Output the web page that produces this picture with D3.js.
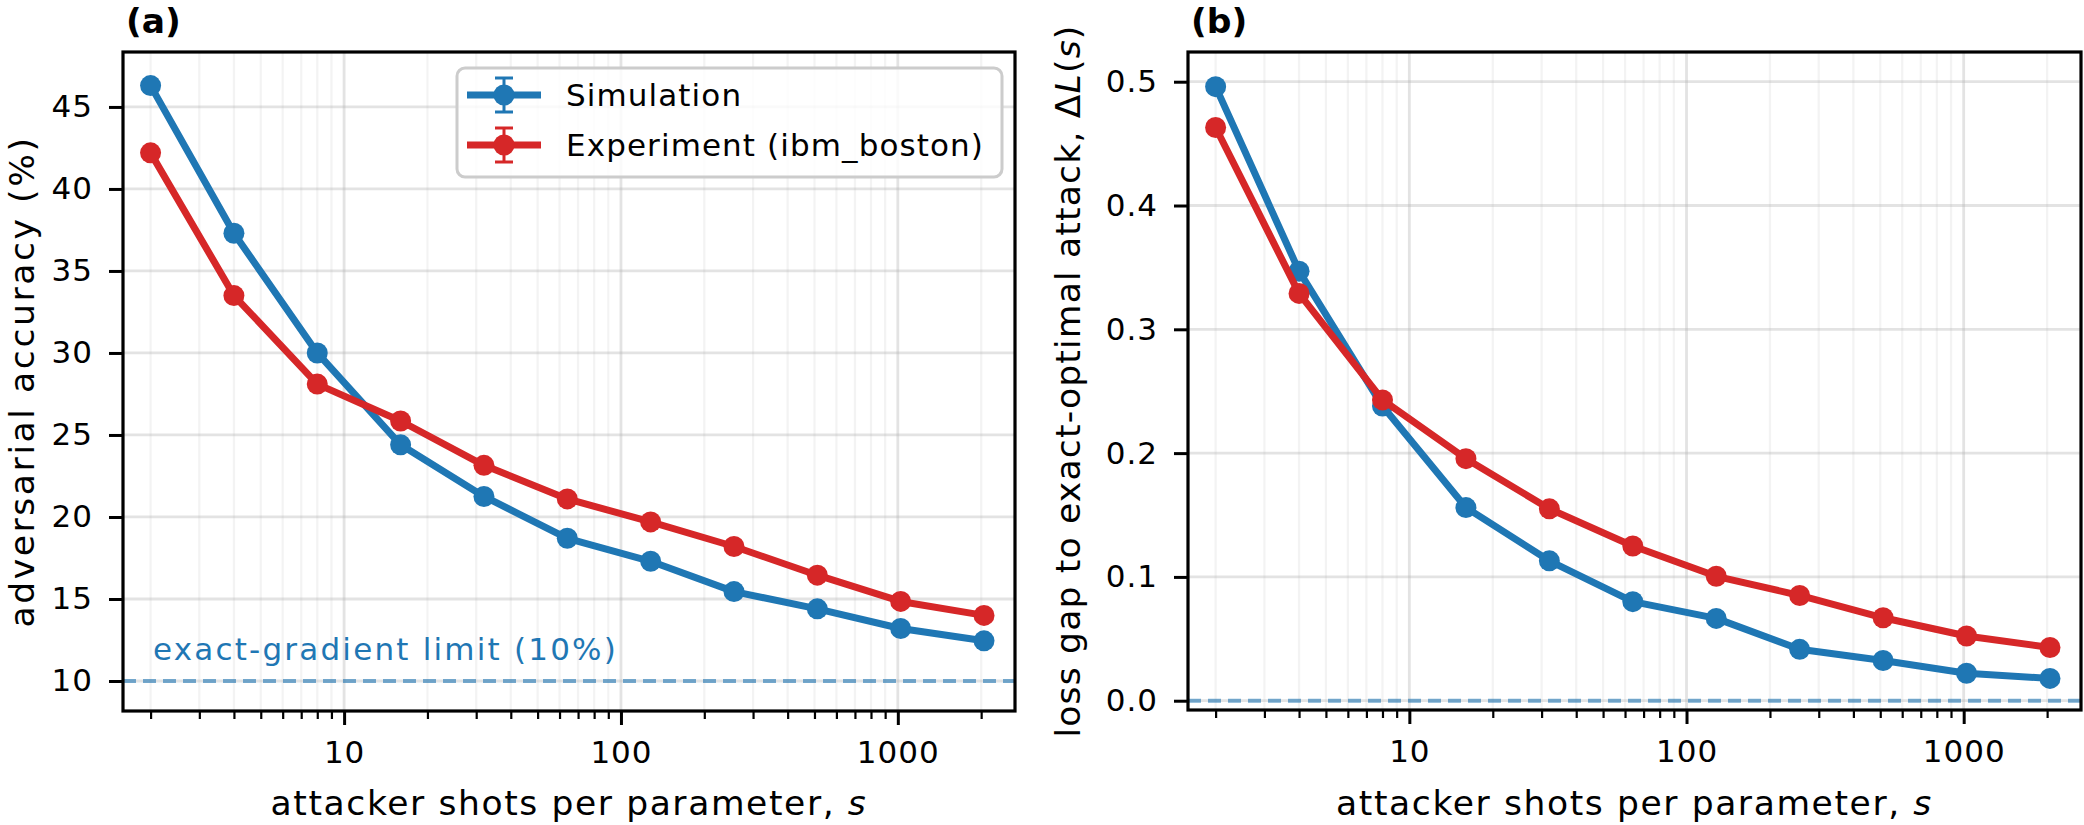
<!DOCTYPE html>
<html>
<head>
<meta charset="utf-8">
<script src="https://d3js.org/d3.v7.min.js"></script>
<style>
  body { margin: 0; background: #fff; }
  svg { display: block; font-family: "DejaVu Sans", sans-serif; }
</style>
</head>
<body>
<script>
// data
const shots = [2, 4, 8, 16, 32, 64, 128, 256, 512, 1024, 2048];
const simAcc = [46.3, 37.3, 30.0, 24.4, 21.25, 18.7, 17.3, 15.45, 14.4, 13.2, 12.45];
const expAcc = [42.2, 33.5, 28.1, 25.85, 23.15, 21.1, 19.7, 18.2, 16.45, 14.85, 14.0];
const simAccErr = [0.3, 0.3, 0.3, 0.3, 0.3, 0.3, 0.3, 0.3, 0.3, 0.3, 0.3];
const expAccErr = [0.3, 0.3, 0.3, 0.3, 0.3, 0.3, 0.3, 0.3, 0.3, 0.3, 0.3];
const simGap = [0.496, 0.347, 0.238, 0.156, 0.113, 0.080, 0.0665, 0.0415, 0.0325, 0.0222, 0.018];
const expGap = [0.463, 0.329, 0.243, 0.1955, 0.155, 0.125, 0.1005, 0.085, 0.067, 0.0523, 0.043];
const simGapErr = [0.004, 0.004, 0.004, 0.004, 0.004, 0.004, 0.004, 0.004, 0.004, 0.004, 0.004];
const expGapErr = [0.004, 0.004, 0.004, 0.004, 0.004, 0.004, 0.004, 0.004, 0.004, 0.004, 0.004];
const xMajorTicks = [10, 100, 1000];
const accTicks = [10, 15, 20, 25, 30, 35, 40, 45];
const gapTicks = [0.0, 0.1, 0.2, 0.3, 0.4, 0.5];
const seriesNames = ["Simulation", "Experiment (ibm_boston)"];

const BLUE = "#1f77b4", RED = "#d62728";

var svg = d3.select("body").append("svg")
    .attr("width", 2084)
    .attr("height", 825);

// minor log ticks 2..9 per decade inside the domain
function minorTicks(dom) {
    var out = [];
    for (var p = 0; p <= 3; p++) {
        for (var k = 2; k <= 9; k++) {
            var v = k * Math.pow(10, p);
            if (v >= dom[0] && v <= dom[1]) out.push(v);
        }
    }
    return out;
}

function drawPanel(opt) {
    var g = svg.append("g");
    var x = d3.scaleLog().domain([1.59, 2650]).range([opt.left, opt.right]);
    var y = d3.scaleLinear().domain(opt.ydom).range([opt.bottom, opt.top]);
    var minors = minorTicks(x.domain());

    // grid
    g.selectAll("line.mgrid").data(minors).enter().append("line")
        .attr("x1", d => x(d)).attr("x2", d => x(d))
        .attr("y1", opt.top).attr("y2", opt.bottom)
        .attr("stroke", "#b0b0b0").attr("stroke-opacity", 0.15).attr("stroke-width", 2.2);
    g.selectAll("line.xgrid").data(xMajorTicks).enter().append("line")
        .attr("x1", d => x(d)).attr("x2", d => x(d))
        .attr("y1", opt.top).attr("y2", opt.bottom)
        .attr("stroke", "#b0b0b0").attr("stroke-opacity", 0.35).attr("stroke-width", 2.8);
    g.selectAll("line.ygrid").data(opt.yticks).enter().append("line")
        .attr("x1", opt.left).attr("x2", opt.right)
        .attr("y1", d => y(d)).attr("y2", d => y(d))
        .attr("stroke", "#b0b0b0").attr("stroke-opacity", 0.35).attr("stroke-width", 2.8);

    // reference line
    g.append("line")
        .attr("x1", opt.left).attr("x2", opt.right)
        .attr("y1", y(opt.ref)).attr("y2", y(opt.ref))
        .attr("stroke", BLUE).attr("stroke-opacity", 0.6)
        .attr("stroke-width", 4).attr("stroke-dasharray", "13 7");

    if (opt.refLabel) {
        g.append("text")
            .attr("x", opt.left + 30).attr("y", y(opt.ref) - 21)
            .attr("fill", BLUE).attr("font-size", 31).attr("letter-spacing", 2.2)
            .text(opt.refLabel);
    }

    // series: error bars, line, markers
    opt.series.forEach(function (s) {
        var pts = shots.map((v, i) => ({ x: v, y: s.vals[i], e: s.err[i] }));
        var eb = g.append("g");
        eb.selectAll("line.eb").data(pts).enter().append("line")
            .attr("x1", d => x(d.x)).attr("x2", d => x(d.x))
            .attr("y1", d => y(d.y - d.e)).attr("y2", d => y(d.y + d.e))
            .attr("stroke", s.color).attr("stroke-width", 3);
        g.append("path").datum(pts)
            .attr("fill", "none").attr("stroke", s.color)
            .attr("stroke-width", 7).attr("stroke-linejoin", "round")
            .attr("d", d3.line().x(d => x(d.x)).y(d => y(d.y)));
        g.selectAll(null).data(pts).enter().append("circle")
            .attr("cx", d => x(d.x)).attr("cy", d => y(d.y))
            .attr("r", 10.5).attr("fill", s.color);
    });

    // frame
    g.append("rect")
        .attr("x", opt.left).attr("y", opt.top)
        .attr("width", opt.right - opt.left).attr("height", opt.bottom - opt.top)
        .attr("fill", "none").attr("stroke", "#000").attr("stroke-width", 3.2);

    // x axis
    var xa = g.append("g")
        .attr("transform", "translate(0," + opt.bottom + ")")
        .call(d3.axisBottom(x).tickValues(xMajorTicks).tickFormat(d3.format("d"))
            .tickSizeInner(14).tickSizeOuter(0).tickPadding(16));
    g.append("g")
        .attr("transform", "translate(0," + opt.bottom + ")")
        .call(d3.axisBottom(x).tickValues(minors).tickFormat("").tickSizeInner(8).tickSizeOuter(0))
        .call(a => a.select(".domain").remove())
        .selectAll("line").attr("stroke-width", 2.2);
    xa.select(".domain").remove();
    xa.selectAll("line").attr("stroke-width", 3);
    xa.selectAll("text").attr("font-size", 31).attr("letter-spacing", 1)
        .attr("font-family", "DejaVu Sans").attr("fill", "#000");

    // y axis
    var ya = g.append("g")
        .attr("transform", "translate(" + opt.left + ",0)")
        .call(d3.axisLeft(y).tickValues(opt.yticks).tickFormat(opt.yfmt)
            .tickSizeInner(14).tickSizeOuter(0).tickPadding(16));
    ya.select(".domain").remove();
    ya.selectAll("line").attr("stroke-width", 3);
    ya.selectAll("text").attr("font-size", 31).attr("letter-spacing", 1)
        .attr("font-family", "DejaVu Sans").attr("fill", "#000");

    // x label
    var xl = g.append("text")
        .attr("x", (opt.left + opt.right) / 2).attr("y", 815)
        .attr("text-anchor", "middle").attr("font-size", 34.5).attr("letter-spacing", 1.6);
    xl.append("tspan").text("attacker shots per parameter, ");
    xl.append("tspan").attr("font-style", "italic").text("s");

    // y label
    var yl = g.append("text")
        .attr("transform", "translate(" + opt.ylabelX + "," + (opt.top + opt.bottom) / 2 + ") rotate(-90)")
        .attr("text-anchor", "middle").attr("font-size", 34.5).attr("letter-spacing", opt.ylabelLs);
    opt.ylabel.forEach(function (p) {
        var t = yl.append("tspan").text(p[0]);
        if (p[1]) t.attr("font-style", "italic");
    });

    // panel tag
    g.append("text")
        .attr("x", opt.left + 3).attr("y", 33)
        .attr("font-size", 34.5).attr("font-weight", "bold")
        .text(opt.tag);

    return { x: x, y: y };
}

drawPanel({
    left: 123, right: 1015, top: 52, bottom: 711,
    ydom: [8.17, 48.35], yticks: accTicks, yfmt: d3.format("d"),
    ref: 10, refLabel: "exact-gradient limit (10%)",
    series: [
        { vals: simAcc, err: simAccErr, color: BLUE },
        { vals: expAcc, err: expAccErr, color: RED }
    ],
    ylabel: [["adversarial accuracy (%)", false]], ylabelX: 34, ylabelLs: 2.6,
    tag: "(a)"
});

drawPanel({
    left: 1188, right: 2081, top: 52, bottom: 710,
    ydom: [-0.0075, 0.524], yticks: gapTicks, yfmt: d3.format(".1f"),
    ref: 0, refLabel: null,
    series: [
        { vals: simGap, err: simGapErr, color: BLUE },
        { vals: expGap, err: expGapErr, color: RED }
    ],
    ylabel: [["loss gap to exact-optimal attack, \u0394", false], ["L", true], ["(", false], ["s", true], [")", false]],
    ylabelX: 1080, ylabelLs: 1.2,
    tag: "(b)"
});

// legend in panel (a)
var leg = svg.append("g");
leg.append("rect")
    .attr("x", 457).attr("y", 68).attr("width", 545).attr("height", 109)
    .attr("rx", 8).attr("fill", "#fff").attr("fill-opacity", 0.8)
    .attr("stroke", "#cccccc").attr("stroke-width", 3);
[BLUE, RED].forEach(function (c, i) {
    var cy = 95 + i * 50;
    leg.append("line").attr("x1", 467).attr("x2", 541).attr("y1", cy).attr("y2", cy)
        .attr("stroke", c).attr("stroke-width", 7);
    leg.append("line").attr("x1", 504).attr("x2", 504).attr("y1", cy - 17).attr("y2", cy + 17)
        .attr("stroke", c).attr("stroke-width", 3);
    leg.append("line").attr("x1", 495).attr("x2", 513).attr("y1", cy - 17).attr("y2", cy - 17)
        .attr("stroke", c).attr("stroke-width", 3);
    leg.append("line").attr("x1", 495).attr("x2", 513).attr("y1", cy + 17).attr("y2", cy + 17)
        .attr("stroke", c).attr("stroke-width", 3);
    leg.append("circle").attr("cx", 504).attr("cy", cy).attr("r", 10.5).attr("fill", c);
    leg.append("text").attr("x", 566).attr("y", cy + 11)
        .attr("font-size", 31).attr("letter-spacing", 1.1)
        .text(seriesNames[i]);
});
</script>
</body>
</html>
